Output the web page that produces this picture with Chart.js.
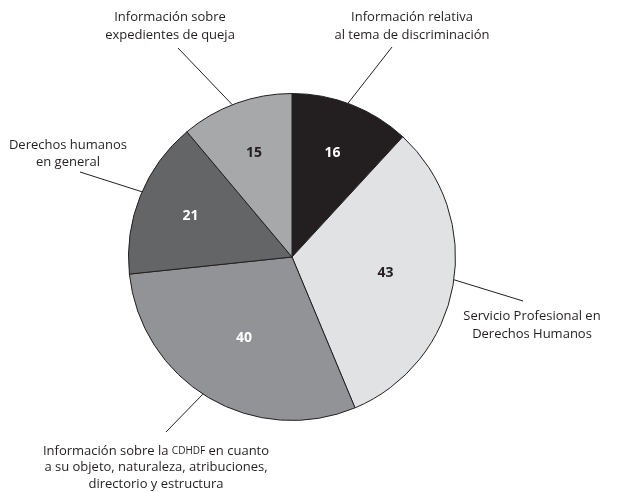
<!DOCTYPE html>
<html>
<head>
<meta charset="utf-8">
<script src="https://cdn.jsdelivr.net/npm/chart.js@4/dist/chart.umd.min.js"></script>
<style>
  html, body { margin: 0; padding: 0; background: #fff; }
  #wrap { width: 629px; height: 492px; position: relative; }
</style>
</head>
<body>
<div id="wrap"><canvas id="chart"></canvas></div>
<script>
// datos del gráfico (en sentido horario desde arriba)
const categories = [
  'Información relativa al tema de discriminación',
  'Servicio Profesional en Derechos Humanos',
  'Información sobre la CDHDF en cuanto a su objeto, naturaleza, atribuciones, directorio y estructura',
  'Derechos humanos en general',
  'Información sobre expedientes de queja'
];
const values = [16, 43, 40, 21, 15];
const labelLines = [
  ['Información relativa', 'al tema de discriminación'],
  ['Servicio Profesional en', 'Derechos Humanos'],
  ['Información sobre la CDHDF en cuanto', 'a su objeto, naturaleza, atribuciones,', 'directorio y estructura'],
  ['Derechos humanos', 'en general'],
  ['Información sobre', 'expedientes de queja']
];

// estilos
const sliceColors = ['#231f20', '#e1e2e3', '#929396', '#646567', '#a7a8aa'];
const valueColors = ['#ffffff', '#231f20', '#ffffff', '#ffffff', '#231f20'];
const valueRadius = [0.68, 0.58, 0.575, 0.67, 0.68];
const calloutAngle = [20, 98, 213, 293.5, 338.6];      // grados desde arriba, horario
const calloutEnd = [[392, 47], [523, 301], [166, 432], [80, 172], [178, 48]];
const textAnchor = [[412, 17], [532, 316], [156, 451], [68, 145], [170, 17]];
const lineGap = [18, 18, 16.5, 17.5, 18];

const TEXT_FONT = '13px "Open Sans", sans-serif';
const SMALL_FONT = '10px "Open Sans", sans-serif';

function drawRichLine(ctx, text, cx, cy) {
  const parts = text.split(/(CDHDF)/);
  const widths = parts.map(p => {
    ctx.font = p === 'CDHDF' ? SMALL_FONT : TEXT_FONT;
    return ctx.measureText(p).width;
  });
  let x = cx - widths.reduce((a, b) => a + b, 0) / 2;
  parts.forEach((p, i) => {
    ctx.font = p === 'CDHDF' ? SMALL_FONT : TEXT_FONT;
    ctx.textAlign = 'left';
    ctx.fillText(p, x, cy + (p === 'CDHDF' ? 0.5 : 0));
    x += widths[i];
  });
}

const labelsPlugin = {
  id: 'pieLabels',
  afterDatasetsDraw(chart) {
    const ctx = chart.ctx;
    const arcs = chart.getDatasetMeta(0).data;
    ctx.save();
    arcs.forEach((arc, i) => {
      const { x, y, startAngle, endAngle, outerRadius } = arc.getProps(['x', 'y', 'startAngle', 'endAngle', 'outerRadius'], true);
      // valor dentro de la rebanada
      const mid = (startAngle + endAngle) / 2;
      const rr = outerRadius * valueRadius[i];
      ctx.font = 'bold 14px "Open Sans", sans-serif';
      ctx.fillStyle = valueColors[i];
      ctx.textAlign = 'center';
      ctx.textBaseline = 'middle';
      ctx.fillText(String(values[i]), x + rr * Math.cos(mid), y + rr * Math.sin(mid));

      // línea guía
      const a = (calloutAngle[i] - 90) * Math.PI / 180;
      ctx.beginPath();
      ctx.moveTo(x + outerRadius * Math.cos(a), y + outerRadius * Math.sin(a));
      ctx.lineTo(calloutEnd[i][0], calloutEnd[i][1]);
      ctx.strokeStyle = '#231f20';
      ctx.lineWidth = 1;
      ctx.stroke();

      // texto de la categoría
      ctx.fillStyle = '#231f20';
      labelLines[i].forEach((line, j) => {
        drawRichLine(ctx, line, textAnchor[i][0], textAnchor[i][1] + j * lineGap[i]);
      });
    });
    ctx.restore();
  }
};

new Chart(document.getElementById('chart'), {
  type: 'pie',
  data: {
    labels: categories,
    datasets: [{
      data: values,
      backgroundColor: sliceColors,
      borderColor: '#231f20',
      borderWidth: 1,
      hoverOffset: 0
    }]
  },
  options: {
    responsive: true,
    maintainAspectRatio: false,
    animation: false,
    events: [],
    layout: { padding: { top: 93, bottom: 71, left: 128, right: 173 } },
    plugins: {
      legend: { display: false },
      tooltip: { enabled: false }
    }
  },
  plugins: [labelsPlugin]
});
</script>
</body>
</html>
